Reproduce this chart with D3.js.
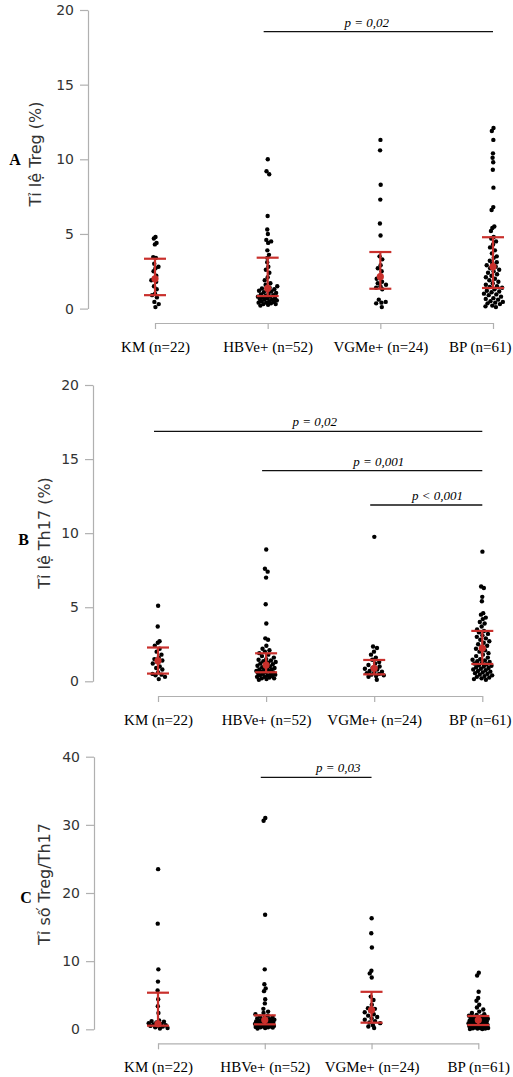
<!DOCTYPE html>
<html>
<head>
  <meta charset="utf-8">
  <title>Treg / Th17</title>
  <script src="https://d3js.org/d3.v7.min.js"></script>
  <style>
    body { margin: 0; background: #fff; }
    .ytick text { font-family: "DejaVu Sans", sans-serif; font-size: 14px; fill: #333; }
    .xtick text { font-family: "Liberation Serif", "Times New Roman", serif; font-size: 15px; fill: #000; }
    .axis path, .axis line { stroke: #b0b0b0; stroke-width: 1.2; }
    .ytitle { font-family: "DejaVu Sans", sans-serif; font-size: 16px; fill: #333; }
    .letter { font-family: "Liberation Serif", serif; font-size: 16px; font-weight: bold; }
    .pval { font-family: "Liberation Serif", serif; font-size: 13px; font-style: italic; }
  </style>
</head>
<body>
<script>
// groups on the x axis
var groups = ["KM (n=22)", "HBVe+ (n=52)", "VGMe+ (n=24)", "BP (n=61)"];

// A: Treg (%)
var tregKM = [4.8, 4.7, 4.4, 4.3, 3.45, 3.4, 3.0, 2.8, 2.7, 2.5, 2.2, 1.95, 1.9, 1.8, 1.5, 1.3, 1.0, 0.9, 0.75, 0.45, 0.3, 0.1];
var tregHBVe = [10.0, 9.2, 9.0, 6.2, 5.3, 5.0, 4.6, 4.5, 4.4, 3.9, 3.6, 3.4, 3.1, 2.8, 2.6, 2.4, 2.1, 1.9, 1.7, 1.6,
  1.5, 1.4, 1.35, 1.3, 1.25, 1.2, 1.15, 1.1, 1.05, 1.0, 0.95, 0.9, 0.85, 0.8, 0.8, 0.75, 0.7, 0.7, 0.65, 0.6,
  0.6, 0.55, 0.5, 0.5, 0.45, 0.4, 0.4, 0.35, 0.3, 0.3, 0.25, 0.2];
var tregVGMe = [11.3, 10.6, 8.3, 7.3, 5.7, 4.9, 3.5, 3.3, 2.9, 2.7, 2.5, 2.2, 2.0, 1.8, 1.7, 1.6, 1.5, 1.4, 1.3, 0.6, 0.45, 0.4, 0.35, 0.1];
var tregBP = [12.1, 11.9, 11.3, 10.4, 10.1, 9.8, 9.3, 8.1, 6.8, 6.6, 5.5, 5.4, 5.2, 4.8, 4.7, 4.5, 4.3, 4.1, 3.9, 3.7,
  3.5, 3.4, 3.2, 3.1, 3.0, 2.9, 2.8, 2.7, 2.6, 2.5, 2.4, 2.3, 2.2, 2.1, 2.0, 1.9, 1.8, 1.7, 1.6, 1.5,
  1.45, 1.4, 1.3, 1.2, 1.15, 1.1, 1.0, 0.95, 0.9, 0.8, 0.7, 0.65, 0.6, 0.5, 0.45, 0.4, 0.35, 0.3, 0.2, 0.15, 0.1];
var tregMid = [2.0, 1.36, 2.14, 2.81];
var tregLow = [0.9, 0.84, 1.33, 1.38];
var tregHigh = [3.34, 3.41, 3.79, 4.78];

// B: Th17 (%)
var th17KM = [5.1, 3.7, 2.7, 2.6, 2.4, 2.2, 2.0, 1.8, 1.6, 1.5, 1.4, 1.3, 1.2, 1.0, 0.9, 0.8, 0.6, 0.5, 0.45, 0.4, 0.3, 0.15];
var th17HBVe = [8.9, 7.6, 7.4, 7.0, 5.2, 3.9, 2.9, 2.8, 2.4, 2.2, 2.1, 2.0, 1.9, 1.8, 1.7, 1.6, 1.5, 1.45, 1.4, 1.35,
  1.3, 1.25, 1.2, 1.15, 1.1, 1.05, 1.0, 0.95, 0.9, 0.85, 0.8, 0.8, 0.75, 0.7, 0.7, 0.65, 0.6, 0.6, 0.55, 0.5,
  0.5, 0.45, 0.4, 0.4, 0.35, 0.3, 0.3, 0.25, 0.2, 0.2, 0.15, 0.1];
var th17VGMe = [9.75, 2.35, 2.25, 2.0, 1.8, 1.6, 1.45, 1.3, 1.2, 1.1, 1.0, 0.9, 0.85, 0.8, 0.7, 0.65, 0.6, 0.55, 0.5, 0.45, 0.4, 0.35, 0.3, 0.1];
var th17BP = [8.75, 6.4, 6.3, 5.7, 5.4, 4.6, 4.5, 4.3, 4.2, 4.0, 3.9, 3.7, 3.5, 3.4, 3.3, 3.2, 3.1, 3.0, 2.9, 2.8,
  2.7, 2.6, 2.5, 2.4, 2.3, 2.2, 2.1, 2.0, 1.9, 1.8, 1.7, 1.6, 1.5, 1.45, 1.4, 1.35, 1.3, 1.25, 1.2, 1.15,
  1.1, 1.05, 1.0, 0.95, 0.9, 0.85, 0.8, 0.75, 0.7, 0.65, 0.6, 0.55, 0.5, 0.45, 0.4, 0.35, 0.3, 0.25, 0.2, 0.15, 0.1];
var th17Mid = [1.38, 1.1, 0.88, 2.23];
var th17Low = [0.52, 0.61, 0.47, 1.17];
var th17High = [2.28, 1.89, 1.44, 3.4];

// C: Treg/Th17 ratio
var ratioKM = [23.5, 15.5, 8.8, 7.0, 5.7, 4.4, 3.4, 2.4, 1.3, 1.2, 1.1, 1.0, 0.9, 0.8, 0.7, 0.6, 0.5, 0.5, 0.4, 0.3, 0.2, 0.1];
var ratioHBVe = [31.0, 30.6, 16.8, 8.8, 6.6, 6.0, 5.6, 4.4, 3.8, 3.0, 2.6, 2.4, 2.2, 2.0, 1.9, 1.8, 1.7, 1.6, 1.5, 1.45,
  1.4, 1.35, 1.3, 1.25, 1.2, 1.15, 1.1, 1.05, 1.0, 0.95, 0.9, 0.85, 0.8, 0.8, 0.75, 0.7, 0.7, 0.65, 0.6, 0.6,
  0.55, 0.5, 0.5, 0.45, 0.4, 0.4, 0.35, 0.3, 0.3, 0.25, 0.2, 0.1];
var ratioVGMe = [16.3, 14.1, 12.0, 8.6, 8.2, 7.6, 4.8, 4.3, 3.6, 3.1, 3.0, 2.7, 2.5, 2.2, 2.0, 1.8, 1.6, 1.4, 1.2, 1.0, 0.9, 0.6, 0.4, 0.2];
var ratioBP = [8.3, 7.9, 5.5, 4.6, 4.2, 3.6, 3.2, 2.9, 2.6, 2.4, 2.2, 2.1, 2.0, 1.9, 1.85, 1.8, 1.75, 1.7, 1.65, 1.6,
  1.55, 1.5, 1.45, 1.4, 1.35, 1.3, 1.25, 1.2, 1.15, 1.1, 1.05, 1.0, 0.95, 0.9, 0.9, 0.85, 0.8, 0.8, 0.75, 0.7,
  0.7, 0.65, 0.6, 0.6, 0.55, 0.5, 0.5, 0.45, 0.4, 0.4, 0.35, 0.3, 0.3, 0.25, 0.2, 0.2, 0.15, 0.1, 0.1, 0.05, 0.05];
var ratioMid = [0.8, 1.36, 2.83, 1.36];
var ratioLow = [0.53, 0.73, 0.97, 0.63];
var ratioHigh = [5.37, 2.05, 5.5, 1.95];

// y tick labels
var ticksAB = [0, 5, 10, 15, 20];
var ticksC = [0, 10, 20, 30, 40];

// significance brackets: from/to group index, height in data units, label
var pA = [{from: 1, to: 3, at: 18.55, label: "p = 0,02", pos: 0.45}];
var pB = [
  {from: 0, to: 3, at: 16.87, label: "p = 0,02", pos: 0.49},
  {from: 1, to: 3, at: 14.22, label: "p = 0,001", pos: 0.53},
  {from: 2, to: 3, at: 11.9, label: "p < 0,001", pos: 0.6}
];
var pC = [{from: 1, to: 2, at: 36.98, label: "p = 0,03", pos: 0.7}];

var red = "#c9302c";

var svg = d3.select("body").append("svg")
  .attr("width", 513)
  .attr("height", 1077);

var panels = [
  {letter: "A", title: "Tỉ lệ Treg (%)", pts: [tregKM, tregHBVe, tregVGMe, tregBP],
   mid: tregMid, low: tregLow, high: tregHigh, ticks: ticksAB, max: 20, p: pA,
   top: 10, bottom: 308.6, axisX: 88, x0: 155, x1: 493, xAxisY: 323,
   letterX: 15, letterY: 165, titleX: 35, titleY: 154},
  {letter: "B", title: "Tỉ lệ Th17 (%)", pts: [th17KM, th17HBVe, th17VGMe, th17BP],
   mid: th17Mid, low: th17Low, high: th17High, ticks: ticksAB, max: 20, p: pB,
   top: 385, bottom: 681.3, axisX: 93, x0: 158, x1: 482.3, xAxisY: 696,
   letterX: 23.5, letterY: 545, titleX: 44, titleY: 533},
  {letter: "C", title: "Tỉ số Treg/Th17", pts: [ratioKM, ratioHBVe, ratioVGMe, ratioBP],
   mid: ratioMid, low: ratioLow, high: ratioHigh, ticks: ticksC, max: 40, p: pC,
   top: 756.7, bottom: 1029.3, axisX: 94, x0: 158, x1: 478.3, xAxisY: 1043.3,
   letterX: 26, letterY: 903, titleX: 44, titleY: 884}
];

panels.forEach(function(pn) {
  var x = d3.scalePoint().domain(groups).range([pn.x0, pn.x1]);
  var y = d3.scaleLinear().domain([0, pn.max]).range([pn.bottom, pn.top]);

  // y axis
  svg.append("g")
    .attr("class", "axis ytick")
    .attr("transform", "translate(" + pn.axisX + ",0)")
    .call(d3.axisLeft(y).tickValues(pn.ticks).tickSize(8).tickSizeOuter(0).tickPadding(6));

  // x axis
  var xg = svg.append("g")
    .attr("class", "axis xtick")
    .attr("transform", "translate(0," + pn.xAxisY + ")")
    .call(d3.axisBottom(x).tickSize(6).tickSizeOuter(0).tickPadding(12));

  // keep the last label inside the picture
  xg.selectAll(".tick").each(function(d) {
    var t = d3.select(this).select("text");
    var w = t.node().getComputedTextLength();
    var over = x(d) + w / 2 - 511;
    if (over > 0) t.attr("x", -over);
  });

  svg.append("text")
    .attr("class", "letter")
    .attr("x", pn.letterX)
    .attr("y", pn.letterY)
    .attr("text-anchor", "middle")
    .text(pn.letter);

  svg.append("text")
    .attr("class", "ytitle")
    .attr("transform", "translate(" + pn.titleX + "," + pn.titleY + ") rotate(-90)")
    .attr("text-anchor", "middle")
    .attr("dominant-baseline", "central")
    .text(pn.title);

  // points with a deterministic jitter that widens where points crowd
  pn.pts.forEach(function(vals, gi) {
    var cx = x(groups[gi]);
    var ys = vals.map(function(v) { return y(v); });
    var dots = vals.map(function(v, i) {
      var n = ys.filter(function(yy) { return Math.abs(yy - ys[i]) < 4; }).length;
      var amp = Math.min(10, 0.5 + (n - 1) * 1.7);
      var f = ((i + 1) * 0.6180339887) % 1;
      return {x: cx + amp * (f * 2 - 1), y: ys[i]};
    });
    svg.append("g").selectAll("circle")
      .data(dots)
      .enter().append("circle")
      .attr("cx", function(d) { return d.x; })
      .attr("cy", function(d) { return d.y; })
      .attr("r", 2.2)
      .attr("fill", "#000");
  });

  // error bars
  var eb = svg.append("g").attr("stroke", red).attr("stroke-width", 2.2);
  groups.forEach(function(g, gi) {
    var cx = x(g);
    eb.append("line").attr("x1", cx).attr("x2", cx)
      .attr("y1", y(pn.low[gi])).attr("y2", y(pn.high[gi]));
    eb.append("line").attr("x1", cx - 11).attr("x2", cx + 11)
      .attr("y1", y(pn.low[gi])).attr("y2", y(pn.low[gi]));
    eb.append("line").attr("x1", cx - 11).attr("x2", cx + 11)
      .attr("y1", y(pn.high[gi])).attr("y2", y(pn.high[gi]));
    eb.append("circle").attr("cx", cx).attr("cy", y(pn.mid[gi]))
      .attr("r", 3.6).attr("fill", red).attr("stroke", "none");
  });

  // significance lines
  pn.p.forEach(function(p) {
    var xa = x(groups[p.from]) - 4, xb = x(groups[p.to]);
    svg.append("line")
      .attr("x1", xa).attr("x2", xb)
      .attr("y1", y(p.at)).attr("y2", y(p.at))
      .attr("stroke", "#111").attr("stroke-width", 1.3);
    svg.append("text")
      .attr("class", "pval")
      .attr("x", xa + (xb - xa) * p.pos)
      .attr("y", y(p.at) - 5)
      .attr("text-anchor", "middle")
      .text(p.label);
  });
});
</script>
</body>
</html>
